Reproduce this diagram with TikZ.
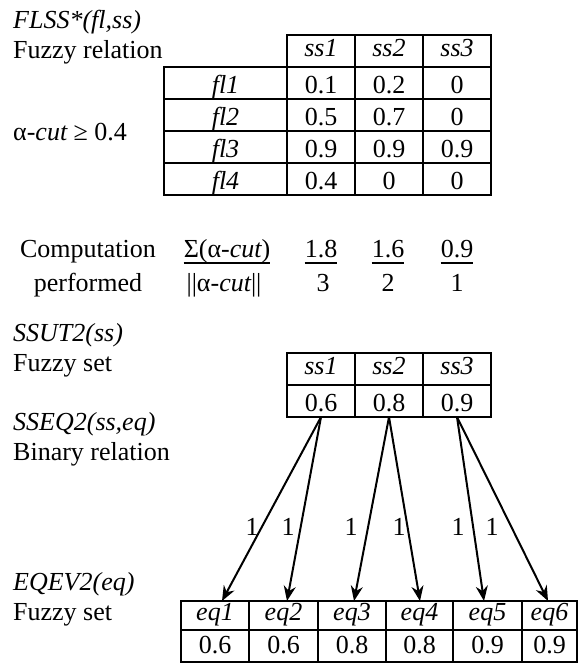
\documentclass[tikz,border=0pt]{standalone}
\usepackage{fontspec}
\setmainfont{Liberation Serif}
\usetikzlibrary{arrows.meta}
\begin{document}
\begin{tikzpicture}[x=1pt,y=-1pt, font=\fontsize{26}{30}\selectfont,
  cell/.style={draw, line width=1.6pt, inner sep=0pt, outer sep=0pt, minimum height=32pt, minimum width=68pt, text height=20pt, text depth=0pt},
  hcell/.style={cell, text height=15pt, text depth=5pt},
  bhcell/.style={cell, minimum height=29pt, text height=15pt, text depth=6pt},
  bvcell/.style={cell, minimum height=32pt, text height=17pt, text depth=3pt},
  lbl/.style={anchor=base west, inner sep=0pt},
  ctr/.style={anchor=base, inner sep=0pt},
  uline/.style={line width=1.2pt},
  arr/.style={line width=2pt, -{Stealth[length=15pt,width=12pt]}},
  one/.style={inner sep=0pt}]
\useasboundingbox (0,0) rectangle (579,667);

% ---- top section labels
\node[lbl] (t1) at (13,28) {\itshape FLSS*(fl,ss)};
\node[lbl] (t2) at (13,58) {Fuzzy relation};
\node[lbl] (t3) at (13,140) {α-{\itshape cut} ≥ 0.4};

% ---- top table
\node[hcell] (h1) at (321,51) {\itshape ss1};
\node[hcell] (h2) at (389,51) {\itshape ss2};
\node[hcell] (h3) at (457,51) {\itshape ss3};

\node[cell, minimum width=123pt] (f1) at (225.5,83) {\itshape fl1};
\node[cell, minimum width=123pt] (f2) at (225.5,115) {\itshape fl2};
\node[cell, minimum width=123pt] (f3) at (225.5,147) {\itshape fl3};
\node[cell, minimum width=123pt] (f4) at (225.5,179) {\itshape fl4};

\node[cell] (c11) at (321,83) {0.1};
\node[cell] (c12) at (389,83) {0.2};
\node[cell] (c13) at (457,83) {0};
\node[cell] (c21) at (321,115) {0.5};
\node[cell] (c22) at (389,115) {0.7};
\node[cell] (c23) at (457,115) {0};
\node[cell] (c31) at (321,147) {0.9};
\node[cell] (c32) at (389,147) {0.9};
\node[cell] (c33) at (457,147) {0.9};
\node[cell] (c41) at (321,179) {0.4};
\node[cell] (c42) at (389,179) {0};
\node[cell] (c43) at (457,179) {0};

% ---- computation
\node[ctr] (cp1) at (88,257) {Computation};
\node[ctr] (cp2) at (88,291) {performed};
\node[ctr] (n0) at (227,257) {Σ(α-{\itshape cut})};
\node[ctr] (d0) at (224,291) {||α-{\itshape cut}||};
\node[ctr] (n1) at (321,257) {1.8};
\node[ctr] (d1) at (323,291) {3};
\node[ctr] (n2) at (388,257) {1.6};
\node[ctr] (d2) at (388,291) {2};
\node[ctr] (n3) at (457,257) {0.9};
\node[ctr] (d3) at (457,291) {1};
\foreach \n in {n0,n1,n2,n3}
  \draw[uline] ([yshift=-6pt]\n.base west) -- ([yshift=-6pt]\n.base east);

% ---- middle section
\node[lbl] (s1) at (13,341) {\itshape SSUT2(ss)};
\node[lbl] (s2) at (13,371) {Fuzzy set};
\node[lbl] (s3) at (13,430) {\itshape SSEQ2(ss,eq)};
\node[lbl] (s4) at (13,460) {Binary relation};

\node[hcell] (m1) at (321,369) {\itshape ss1};
\node[hcell] (m2) at (389,369) {\itshape ss2};
\node[hcell] (m3) at (457,369) {\itshape ss3};
\node[cell] (v1) at (321,401) {0.6};
\node[cell] (v2) at (389,401) {0.8};
\node[cell] (v3) at (457,401) {0.9};

% ---- bottom section
\node[lbl] (b1) at (13,590) {\itshape EQEV2(eq)};
\node[lbl] (b2) at (13,620) {Fuzzy set};

\node[bhcell, minimum width=68pt] (e1) at (215,615.5) {\itshape eq1};
\node[bhcell, minimum width=69pt] (e2) at (283.5,615.5) {\itshape eq2};
\node[bhcell, minimum width=68pt] (e3) at (352,615.5) {\itshape eq3};
\node[bhcell, minimum width=67pt] (e4) at (419.5,615.5) {\itshape eq4};
\node[bhcell, minimum width=69pt] (e5) at (487.5,615.5) {\itshape eq5};
\node[bhcell, minimum width=55pt] (e6) at (549.5,615.5) {\itshape eq6};
\node[bvcell, minimum width=68pt] (w1) at (215,646) {0.6};
\node[bvcell, minimum width=69pt] (w2) at (283.5,646) {0.6};
\node[bvcell, minimum width=68pt] (w3) at (352,646) {0.8};
\node[bvcell, minimum width=67pt] (w4) at (419.5,646) {0.8};
\node[bvcell, minimum width=69pt] (w5) at (487.5,646) {0.9};
\node[bvcell, minimum width=55pt] (w6) at (549.5,646) {0.9};

% ---- arrows
\draw[arr] (v1.south) -- ([xshift=7pt]e1.north);
\draw[arr] (v1.south) -- ([xshift=3.5pt]e2.north);
\draw[arr] (v2.south) -- ([xshift=2pt]e3.north);
\draw[arr] (v2.south) -- ([xshift=0.5pt]e4.north);
\draw[arr] (v3.south) -- ([xshift=-3.5pt]e5.north);
\draw[arr] (v3.south) -- ([xshift=-1.5pt]e6.north);

\node[one] (o1) at (252,527) {1};
\node[one] (o2) at (288,527) {1};
\node[one] (o3) at (351,527) {1};
\node[one] (o4) at (399,527) {1};
\node[one] (o5) at (458,527) {1};
\node[one] (o6) at (492,527) {1};
\end{tikzpicture}
\end{document}
